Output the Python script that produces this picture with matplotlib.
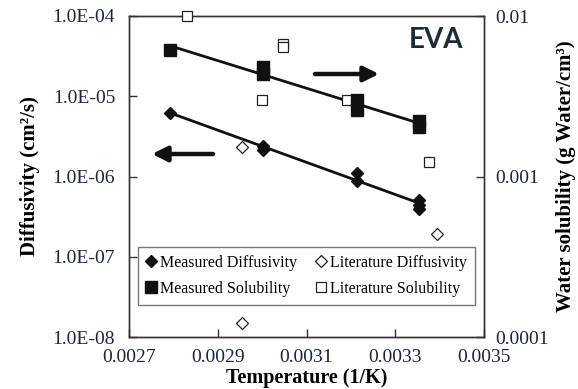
import numpy as np
import matplotlib
matplotlib.use("Agg")
import matplotlib.pyplot as plt
from matplotlib.lines import Line2D

# ---- data ----
meas_diff_x = [0.002792, 0.003002, 0.003002, 0.003214, 0.003214, 0.003354, 0.003354, 0.003354]
meas_diff_y = [6.2e-6, 2.40e-6, 2.14e-6, 1.11e-6, 8.8e-7, 5.1e-7, 4.4e-7, 3.94e-7]

lit_diff_x = [0.002955, 0.003393, 0.002955]
lit_diff_y = [2.35e-6, 1.9e-7, 1.49e-8]

meas_sol_x = [0.002792, 0.003002, 0.003002, 0.003214, 0.003214, 0.003354, 0.003354]
meas_sol_y = [6.1e-3, 4.78e-3, 4.38e-3, 2.98e-3, 2.61e-3, 2.23e-3, 2.02e-3]

lit_sol_x = [0.002831, 0.003047, 0.003047, 0.003000, 0.003191, 0.003376]
lit_sol_y = [1.0e-2, 6.74e-3, 6.37e-3, 2.98e-3, 2.98e-3, 1.24e-3]

x_ticks = [0.0027, 0.0029, 0.0031, 0.0033, 0.0035]
x_ticklabels = ["0.0027", "0.0029", "0.0031", "0.0033", "0.0035"]
left_ticks = [1e-8, 1e-7, 1e-6, 1e-5, 1e-4]
left_ticklabels = ["1.0E-08", "1.0E-07", "1.0E-06", "1.0E-05", "1.0E-04"]
right_ticks = [1e-4, 1e-3, 1e-2]
right_ticklabels = ["0.0001", "0.001", "0.01"]

SERIF = ["Liberation Serif", "DejaVu Serif"]
TICKCOL = "#1c2340"

fig = plt.figure(figsize=(5.78, 3.89), dpi=100)
ax = fig.add_axes([129/578, 1-337/389, 355/578, 321/389])
ax2 = ax.twinx()

for a in (ax, ax2):
    a.set_xlim(0.0027, 0.0035)
    a.set_yscale("log")
    for s in a.spines.values():
        s.set_color("#333333")
        s.set_linewidth(1.0)

ax.set_ylim(1e-8, 1e-4)
ax2.set_ylim(1e-4, 1e-2)

# fitted lines (regression of log values)
def fit_line(xs, ys):
    xs = np.asarray(xs); ly = np.log10(ys)
    m, b = np.polyfit(xs, ly, 1)
    xx = np.array([xs.min(), xs.max()])
    return xx, 10 ** (m * xx + b)

fx, fy = fit_line(meas_diff_x, meas_diff_y)
ax.plot(fx, fy, color="#111111", lw=2.0, zorder=3)
fx2, fy2 = fit_line(meas_sol_x, meas_sol_y)
ax2.plot(fx2, fy2, color="#111111", lw=2.0, zorder=3)

ax.plot(meas_diff_x, meas_diff_y, ls="none", marker="D", ms=6.5, color="#111111", zorder=4, clip_on=False)
ax.plot(lit_diff_x, lit_diff_y, ls="none", marker="D", ms=6.2, mfc="white", mec="#222222", mew=0.9, zorder=4, clip_on=False)
ax2.plot(lit_sol_x, lit_sol_y, ls="none", marker="s", ms=7.2, mfc="white", mec="#222222", mew=0.9, zorder=3, clip_on=False)
ax2.plot(meas_sol_x, meas_sol_y, ls="none", marker="s", ms=8.0, color="#111111", zorder=4, clip_on=False)

# ticks
ax.set_xticks(x_ticks)
ax.set_xticklabels(x_ticklabels, family=SERIF, fontsize=14, color=TICKCOL)
ax.set_yticks(left_ticks)
ax.set_yticklabels(left_ticklabels, family=SERIF, fontsize=14, color=TICKCOL)
ax.yaxis.set_minor_locator(matplotlib.ticker.NullLocator())
ax.tick_params(axis="both", which="major", direction="in", length=6, width=1, color="#333333")
ax.tick_params(axis="y", pad=10)
ax.tick_params(axis="x", pad=9)
ax2.set_yticks(right_ticks)
ax2.set_yticklabels(right_ticklabels, family=SERIF, fontsize=14, color=TICKCOL)
ax2.yaxis.set_minor_locator(matplotlib.ticker.NullLocator())
ax2.tick_params(axis="y", which="major", direction="in", length=6, width=1, color="#333333", pad=8)

# axis labels
ax.set_xlabel("Temperature (1/K)", family=SERIF, fontsize=14.5, fontweight="bold")
ax.xaxis.set_label_coords(0.5, (337-378)/321)
ax.xaxis.label.set(va="center")
ax.set_ylabel("Diffusivity (cm²/s)", family=SERIF, fontsize=15, fontweight="bold")
ax.yaxis.set_label_coords((30-129)/355, 0.5)
ax.yaxis.label.set(ha="center", va="center", rotation_mode="anchor")
ax2.set_ylabel("Water solubility (g Water/cm³)", family=SERIF, fontsize=15, fontweight="bold")
ax2.yaxis.set_label_coords((566-129)/355, 0.5)
ax2.yaxis.label.set(ha="center", va="center", rotation=90, rotation_mode="anchor")

# arrows
arr = dict(arrowstyle="-|>,head_length=0.9,head_width=0.45", lw=3.2, color="#111111", shrinkA=0, shrinkB=0)
ax.annotate("", xy=((152-129)/355, (337-154)/321), xytext=((213-129)/355, (337-154)/321),
            xycoords="axes fraction", textcoords="axes fraction", arrowprops=arr)
ax.annotate("", xy=((379-129)/355, (337-74)/321), xytext=((315-129)/355, (337-74)/321),
            xycoords="axes fraction", textcoords="axes fraction", arrowprops=arr)

# EVA label
ax2.text((436-129)/355, (337-40)/321, "EVA", transform=ax.transAxes, ha="center", va="center",
         fontsize=20, fontweight="bold", family=["Lato", "DejaVu Sans"], color="#1e2a35")

# legend
handles = [
    Line2D([], [], ls="none", marker="D", ms=6.5, color="#111111"),
    Line2D([], [], ls="none", marker="s", ms=8.0, color="#111111"),
    Line2D([], [], ls="none", marker="D", ms=6.2, mfc="white", mec="#222222", mew=0.9),
    Line2D([], [], ls="none", marker="s", ms=7.2, mfc="white", mec="#222222", mew=0.9),
]
labels = ["Measured Diffusivity", "Measured Solubility", "Literature Diffusivity", "Literature Solubility"]
leg = ax2.legend(handles, labels, ncol=2, loc="upper left",
                 bbox_to_anchor=((138-129)/355, (337-247)/321), bbox_transform=ax.transAxes,
                 prop={"family": SERIF, "size": 11.5}, frameon=True, fancybox=False,
                 handlelength=0.6, handletextpad=0.25, columnspacing=1.25, labelspacing=0.6,
                 borderpad=0.5, borderaxespad=0)
leg.get_frame().set_edgecolor("#555555")
leg.get_frame().set_linewidth(1.0)
leg.set_zorder(10)

fig.savefig("out.png", dpi=100)
